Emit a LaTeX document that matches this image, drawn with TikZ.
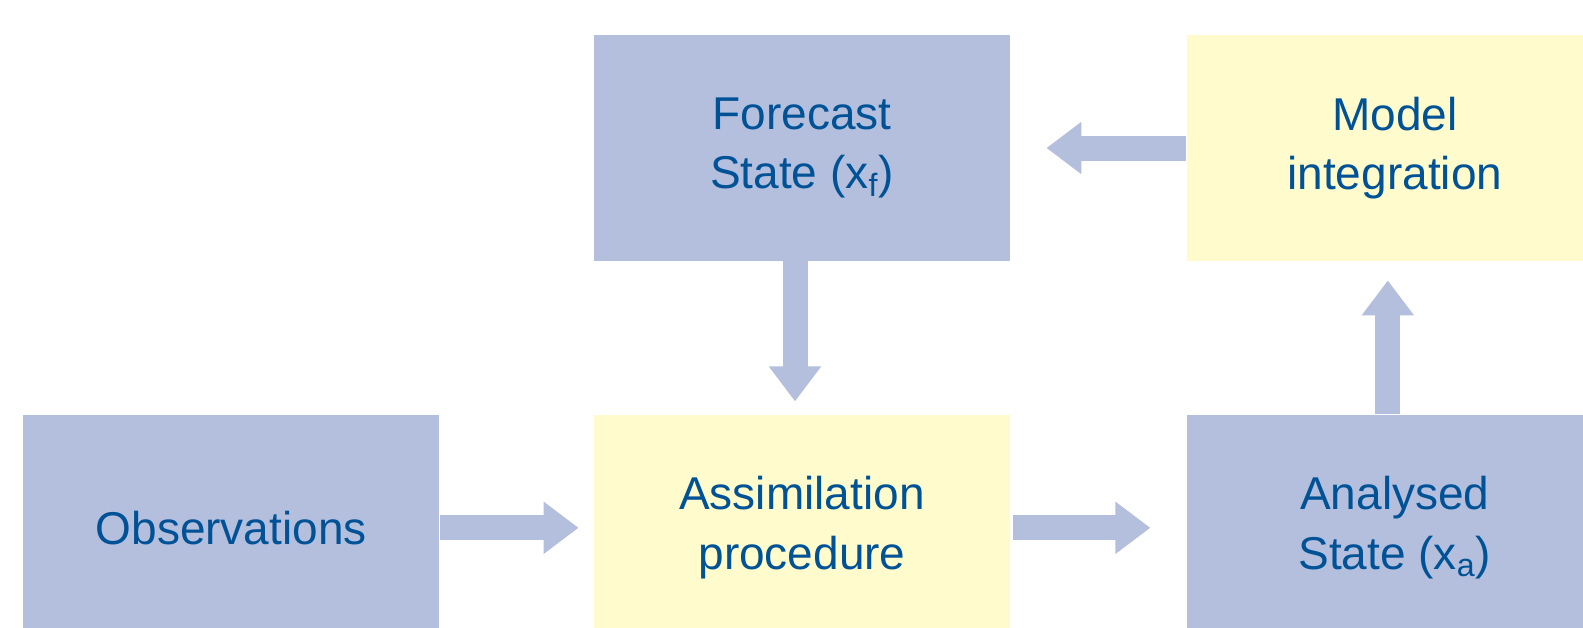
\documentclass[tikz,border=0pt]{standalone}
\usepackage{fontspec}
\setmainfont{Liberation Sans}
\usepackage{tikz}
\usetikzlibrary{positioning,arrows.meta}
\definecolor{boxblue}{RGB}{180,190,221}
\definecolor{boxyellow}{RGB}{255,251,204}
\definecolor{textblue}{RGB}{0,82,150}

\begin{document}
\begin{tikzpicture}[>={Triangle[length=17.5pt,width=25pt]},
                    node distance=88pt,
                    font=\fontsize{23}{29.8}\selectfont]
  \tikzstyle{block}=[rectangle, minimum width=208pt, minimum height=113pt,
                     inner sep=0pt, align=center, text=textblue]
  \tikzstyle{flow}=[->, draw=boxblue, line width=12.5pt]

  \useasboundingbox (-401pt,-239.5pt) rectangle (390.5pt,74pt);

  \node[block, fill=boxblue]   (fc)                         {Forecast\\State (x\textsubscript{f})};
  \node[block, fill=boxyellow] (mod) [right=88pt of fc]     {Model\\integration};
  \node[block, fill=boxyellow] (as)  [below=76.5pt of fc]   {Assimilation\\procedure};
  \node[block, fill=boxblue]   (obs) [left=77pt of as]      {Observations};
  \node[block, fill=boxblue]   (ana) [right=88pt of as]     {Analysed\\State (x\textsubscript{a})};

  \path (obs) edge [flow, shorten >=7.5pt] (as)
        (as)  edge [flow, shorten <=1.5pt, shorten >=18pt] (ana)
        (mod) edge [flow, shorten >=18pt] (fc)
        ([xshift=-3.5pt]fc.south)  edge [flow, shorten >=6.5pt] ([xshift=-3.5pt]as.north)
        ([xshift=-3.5pt]ana.north) edge [flow, shorten >=9.5pt] ([xshift=-3.5pt]mod.south);

\end{tikzpicture}
\end{document}
